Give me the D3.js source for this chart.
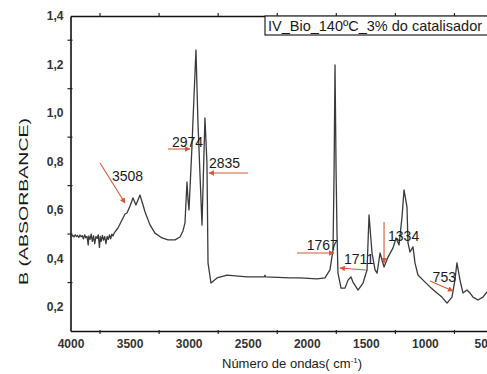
<!DOCTYPE html>
<html>
<head>
<meta charset="utf-8">
<script src="https://cdn.jsdelivr.net/npm/d3@7"></script>
<style>
  body { margin: 0; background: #fff; }
  svg { display: block; font-family: "Liberation Sans", Arial, sans-serif; }
</style>
</head>
<body>
<div id="chart"></div>
<script>
// spectrum (wavenumber cm-1, absorbance)
const wavenumbers = [
  4000, 3990, 3980, 3970, 3960, 3950, 3940, 3930, 3920, 3910, 3900, 3890, 3880, 3870, 3860, 3850,
  3845, 3835, 3825, 3815, 3805, 3795, 3785, 3775, 3765, 3755, 3748, 3740, 3730, 3720, 3710, 3700,
  3690, 3680, 3670, 3660, 3650, 3640, 3630, 3598, 3564, 3539, 3522, 3496, 3471, 3446, 3412, 3386,
  3369, 3327, 3285, 3225, 3175, 3115, 3073, 3048, 3031, 3014, 3005, 2997, 2972, 2963, 2938, 2921,
  2887, 2862, 2845, 2836, 2811, 2760, 2675, 2506, 2360, 2354, 2348, 2142, 2058, 1914, 1846, 1804,
  1778, 1769, 1761, 1752, 1744, 1736, 1710, 1676, 1651, 1626, 1609, 1566, 1524, 1490, 1473, 1448,
  1422, 1405, 1380, 1346, 1312, 1270, 1245, 1219, 1194, 1177, 1152, 1143, 1126, 1101, 1084, 1059,
  1016, 957, 898, 856, 813, 771, 746, 729, 703, 678, 644, 619, 593, 551, 509, 475, 400
];
const absorbance = [
  0.495, 0.490, 0.495, 0.488, 0.497, 0.490, 0.494, 0.486, 0.496, 0.489, 0.493, 0.480, 0.497, 0.485, 0.490, 0.455,
  0.492, 0.478, 0.500, 0.470, 0.493, 0.460, 0.490, 0.482, 0.497, 0.445, 0.490, 0.470, 0.495, 0.475, 0.490, 0.460,
  0.490, 0.478, 0.497, 0.480, 0.500, 0.492, 0.505, 0.525, 0.558, 0.583, 0.587, 0.616, 0.649, 0.620, 0.661, 0.620,
  0.591, 0.538, 0.504, 0.484, 0.476, 0.476, 0.488, 0.513, 0.546, 0.715, 0.640, 0.600, 0.859, 0.971, 1.260, 0.958,
  0.537, 0.979, 0.793, 0.381, 0.298, 0.319, 0.331, 0.323, 0.323, 0.330, 0.323, 0.319, 0.319, 0.315, 0.319, 0.352,
  0.434, 0.752, 1.198, 0.760, 0.500, 0.339, 0.277, 0.277, 0.310, 0.323, 0.302, 0.269, 0.298, 0.352, 0.579, 0.422,
  0.352, 0.339, 0.422, 0.364, 0.405, 0.443, 0.484, 0.455, 0.570, 0.682, 0.612, 0.463, 0.426, 0.447, 0.381, 0.331,
  0.310, 0.282, 0.257, 0.240, 0.215, 0.240, 0.310, 0.381, 0.310, 0.257, 0.269, 0.257, 0.240, 0.228, 0.240, 0.261, 0.280
];

// band labels and their arrows (arrow from -> to, in data units)
const bandLabels = ["3508", "2974", "2835", "1767", "1711", "1334", "753"];
const labelPos   = [[3649, 0.719], [3141, 0.859], [2828, 0.773], [2000, 0.434], [1685, 0.376], [1312, 0.471], [935, 0.302]];
const arrowFrom  = [[3750, 0.793], [3175, 0.851], [2498, 0.752], [2083, 0.422], [1500, 0.352], [1346, 0.550], [957, 0.306]];
const arrowTo    = [[3539, 0.628], [2989, 0.851], [2828, 0.752], [1770, 0.422], [1719, 0.360], [1346, 0.381], [762, 0.265]];

const yTicks = [0.2, 0.4, 0.6, 0.8, 1.0, 1.2, 1.4];
const xTicks = [4000, 3500, 3000, 2500, 2000, 1500, 1000, 500];
const xMinor = [3750, 3250, 2750, 2250, 1750, 1250, 750];
const yMinor = [0.3, 0.5, 0.7, 0.9, 1.1, 1.3];
const legendText = "IV_Bio_140ºC_3% do catalisador";

const width = 487, height = 374;
const margin = {top: 16, left: 70.5, bottom: 331};
const arrowColor = "#d6583a";

const x = d3.scaleLinear().domain([4000, 400]).range([margin.left, margin.left + 3600 * 0.11814]);
const y = d3.scaleLinear().domain([0.1, 1.4]).range([margin.bottom, margin.top]);
const comma = d => d3.format(".1f")(d).replace(".", ",");

const svg = d3.select("#chart").append("svg")
  .attr("width", width)
  .attr("height", height);

svg.append("defs").append("marker")
  .attr("id", "head")
  .attr("viewBox", "0 0 10 10")
  .attr("refX", 9).attr("refY", 5)
  .attr("markerWidth", 6).attr("markerHeight", 5)
  .attr("orient", "auto")
  .append("path")
  .attr("d", "M0,0L10,5L0,10z")
  .attr("fill", arrowColor);

// axes: labels on the major values, the scan only shows the in-between ticks
const bottomAxis = svg.append("g")
  .attr("transform", `translate(0,${margin.bottom})`)
  .call(d3.axisBottom(x).tickValues(xTicks).tickSize(0).tickPadding(8).tickFormat(d3.format("d")));
const topAxis = svg.append("g")
  .attr("transform", `translate(0,${margin.top})`)
  .call(d3.axisTop(x).tickValues([]).tickSizeOuter(0));
const leftAxis = svg.append("g")
  .attr("transform", `translate(${margin.left},0)`)
  .call(d3.axisLeft(y).tickValues(yTicks).tickSize(0).tickPadding(7).tickFormat(comma));

[bottomAxis, topAxis, leftAxis].forEach(g => {
  g.select(".domain").attr("stroke", "#111").attr("stroke-width", 1.6);
  g.selectAll(".tick text").attr("fill", "#333").attr("font-size", 12).attr("font-weight", "bold")
    .attr("font-family", "Liberation Sans, Arial, sans-serif");
});

const minor = svg.append("g").attr("stroke", "#222").attr("stroke-width", 1.2);
minor.selectAll(".xb").data(xMinor).join("line").attr("class", "xb")
  .attr("x1", d => x(d)).attr("x2", d => x(d))
  .attr("y1", margin.bottom - 1).attr("y2", margin.bottom + 3);
minor.selectAll(".xt").data(xMinor).join("line").attr("class", "xt")
  .attr("x1", d => x(d)).attr("x2", d => x(d))
  .attr("y1", margin.top + 1).attr("y2", margin.top - 3);
minor.selectAll(".yl").data(yMinor).join("line").attr("class", "yl")
  .attr("x1", margin.left - 3).attr("x2", margin.left + 2)
  .attr("y1", d => y(d)).attr("y2", d => y(d));

// spectrum line
const line = d3.line()
  .x((d, i) => x(wavenumbers[i]))
  .y(d => y(d));

svg.append("path")
  .datum(absorbance)
  .attr("fill", "none")
  .attr("stroke", "#3a3a3a")
  .attr("stroke-width", 1.3)
  .attr("stroke-linejoin", "round")
  .attr("d", line);

// annotations
const ann = svg.append("g");
ann.selectAll("line")
  .data(bandLabels)
  .join("line")
  .attr("x1", (d, i) => x(arrowFrom[i][0]))
  .attr("y1", (d, i) => y(arrowFrom[i][1]))
  .attr("x2", (d, i) => x(arrowTo[i][0]))
  .attr("y2", (d, i) => y(arrowTo[i][1]))
  .attr("stroke", arrowColor)
  .attr("stroke-width", 1.1)
  .attr("marker-end", "url(#head)");
ann.selectAll("text")
  .data(bandLabels)
  .join("text")
  .attr("x", (d, i) => x(labelPos[i][0]))
  .attr("y", (d, i) => y(labelPos[i][1]))
  .attr("font-size", 14)
  .attr("fill", "#1a1a1a")
  .text(d => d);

// legend box, runs off the right edge like the scan
svg.append("rect")
  .attr("x", 265).attr("y", margin.top)
  .attr("width", 240).attr("height", 19)
  .attr("fill", "#fff")
  .attr("stroke", "#222")
  .attr("stroke-width", 1.2);
svg.append("text")
  .attr("x", 268).attr("y", 31)
  .attr("font-size", 14.5)
  .attr("fill", "#1a1a1a")
  .text(legendText);

// axis titles
svg.append("text")
  .attr("x", 222).attr("y", 368)
  .attr("font-size", 13)
  .attr("fill", "#1a1a1a")
  .html('Número de ondas( cm<tspan dy="-5" font-size="8">-1</tspan><tspan dy="5">)</tspan>');

svg.append("text")
  .attr("transform", "translate(28,285) rotate(-90)")
  .attr("font-size", 13)
  .attr("fill", "#1a1a1a")
  .attr("textLength", 167)
  .attr("lengthAdjust", "spacingAndGlyphs")
  .text("B (ABSORBANCE)");
</script>
</body>
</html>
